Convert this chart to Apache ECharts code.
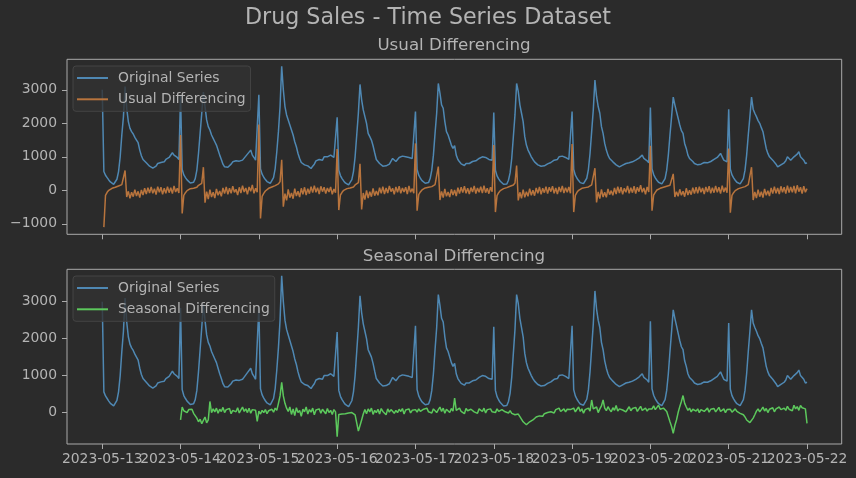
<!DOCTYPE html>
<html>
<head>
<meta charset="utf-8">
<script src="https://cdn.jsdelivr.net/npm/echarts@6/dist/echarts.min.js"></script>
<style>
html,body{margin:0;padding:0;background:#2b2b2b;}
#main{width:856px;height:478px;}
</style>
</head>
<body>
<div id="main"></div>
<script>
// ---- data (half-hourly readings, one inner array per day starting 2023-05-13) ----
const tickLabels = ['2023-05-13','2023-05-14','2023-05-15','2023-05-16','2023-05-17',
                    '2023-05-18','2023-05-19','2023-05-20','2023-05-21','2023-05-22'];

const originalSeries = [
 [3000, 560, 450, 380, 310, 250, 210, 180, 220, 330,
  560, 1000, 1650, 2200, 3100, 2450, 2050, 1850, 1750, 1680,
  1580, 1500, 1420, 1200, 1030, 920, 870, 820, 780, 720,
  700, 660, 650, 720, 800, 850, 830, 860, 850, 920,
  950, 980, 1000, 1120, 1050, 1000, 980, 920],
 [2830, 620, 460, 380, 310, 260, 220, 210, 240, 350,
  600, 1100, 1700, 2300, 2930, 2500, 2100, 1900, 1800, 1650,
  1550, 1450, 1350, 1200, 1050, 920, 780, 700, 680, 690,
  720, 780, 850, 830, 880, 920, 870, 850, 900, 960,
  1000, 1080, 1120, 1200, 1050, 980, 900, 850],
 [2850, 640, 480, 390, 320, 260, 220, 210, 250, 380,
  650, 1150, 1750, 2500, 3700, 3000, 2500, 2250, 2100, 1950,
  1800, 1650, 1450, 1300, 1100, 950, 830, 790, 760, 740,
  730, 700, 650, 720, 780, 880, 900, 920, 930, 900,
  1000, 1050, 1000, 1050, 1050, 1000, 980, 950],
 [2180, 600, 440, 350, 280, 220, 180, 160, 200, 320,
  560, 1000, 1650, 2300, 3160, 2700, 2400, 2200, 2000, 1700,
  1600, 1500, 1330, 1120, 920, 860, 800, 760, 720, 700,
  730, 750, 780, 800, 950, 900, 860, 900, 980, 1000,
  1020, 990, 1000, 1020, 980, 1000, 950, 900],
 [2350, 620, 450, 360, 290, 240, 210, 200, 230, 350,
  600, 1050, 1700, 2300, 3190, 2900, 2550, 2450, 2050, 1750,
  1650, 1500, 1350, 1250, 1330, 1050, 920, 850, 790, 760,
  740, 800, 780, 800, 840, 860, 900, 880, 920, 950,
  960, 1000, 1050, 980, 950, 920, 880, 900],
 [2320, 600, 430, 340, 270, 220, 180, 160, 190, 300,
  520, 950, 1600, 2250, 3190, 2950, 2550, 2300, 2050, 1600,
  1350, 1200, 1100, 1000, 920, 850, 800, 760, 740, 720,
  700, 730, 760, 790, 800, 830, 850, 900, 950, 920,
  1000, 1050, 1020, 1050, 980, 1000, 920, 870],
 [2350, 620, 450, 360, 290, 230, 190, 200, 240, 360,
  620, 1100, 1750, 2400, 3290, 2800, 2500, 2300, 1900, 1700,
  1400, 1200, 1050, 950, 900, 850, 800, 760, 720, 700,
  720, 750, 780, 800, 780, 820, 800, 850, 860, 900,
  920, 960, 1000, 1050, 950, 920, 880, 820],
 [2470, 640, 470, 370, 300, 240, 200, 190, 230, 350,
  600, 1050, 1650, 2200, 2780, 2550, 2350, 2150, 1950, 1780,
  1700, 1400, 1250, 1050, 950, 900, 860, 800, 780, 760,
  740, 780, 800, 830, 850, 820, 800, 860, 900, 920,
  950, 980, 1000, 1100, 1000, 900, 880, 850],
 [2420, 630, 460, 370, 300, 240, 200, 190, 230, 350,
  600, 1050, 1650, 2200, 2780, 2420, 2300, 2200, 2080, 2000,
  1870, 1750, 1500, 1250, 1100, 1000, 950, 900, 850, 780,
  700, 650, 760, 800, 820, 880, 1000, 950, 900, 950,
  1000, 1030, 1080, 1150, 1000, 1050, 900, 800],
 [820]
];

const usualDifferencing = [
 [null, -1100, -150, -60, 0, 30, 60, 40, 90, 70,
  130, 110, 170, 220, 590, -200, -30, -240, -60, -190,
  20, -170, -30, -220, 10, -140, 60, -110, 80, -80,
  100, -90, 50, -130, 110, -60, 90, -120, 60, -90,
  110, -70, 80, -100, 130, -50, 60, -80],
 [1650, -690, -150, -70, -10, 40, 50, 70, 60, 110,
  90, 150, 130, 210, 690, -370, -40, -260, 20, -200,
  -60, -230, 40, -150, -20, -180, 70, -100, 100, -120,
  60, -90, 120, -60, 30, -140, 90, -80, 140, -50,
  70, -120, 100, -30, 160, -90, 60, -60],
 [1960, -840, -180, -90, -20, 20, 60, 50, 100, 80,
  140, 120, 190, 260, 910, -490, -100, -300, 30, -220,
  -80, -250, 50, -170, -30, -200, 60, -120, 90, -140,
  50, -100, 110, -70, 140, -60, 80, -110, 120, -40,
  90, -100, 70, -50, 100, -120, 40, -70],
 [1230, -590, -140, -60, 0, 40, 50, 80, 70, 120,
  100, 160, 150, 230, 790, -570, -80, -280, 0, -230,
  -40, -190, 60, -160, -20, -150, 80, -90, 110, -110,
  70, -80, 130, -40, 60, -120, 100, -60, 120, -90,
  70, -50, 90, -110, 130, -60, 50, -90],
 [1400, -610, -130, -50, 10, 40, 70, 60, 90, 100,
  110, 150, 170, 200, 710, -290, -30, -220, 40, -180,
  -50, -200, 30, -140, 10, -170, 80, -100, 90, -70,
  120, -90, 60, -110, 80, -50, 130, -100, 70, -60,
  110, -80, 140, -70, 60, -100, 90, -40],
 [1350, -650, -160, -70, -10, 30, 50, 60, 80, 90,
  120, 140, 160, 220, 740, -300, -60, -240, 20, -210,
  -40, -180, 50, -150, 0, -160, 70, -90, 100, -120,
  60, -70, 110, -100, 90, -40, 120, -90, 70, -110,
  100, -50, 130, -80, 80, -60, 100, -90],
 [1380, -650, -150, -60, 0, 50, 60, 70, 80, 110,
  100, 150, 160, 210, 660, -360, -50, -250, 30, -200,
  -60, -210, 40, -130, -10, -150, 70, -110, 110, -80,
  90, -120, 60, -60, 130, -90, 80, -70, 120, -100,
  90, -40, 150, -60, 70, -120, 100, -50],
 [1330, -610, -140, -60, 10, 40, 60, 50, 90, 100,
  120, 130, 150, 180, 490, -200, -40, -180, 30, -150,
  -30, -190, 60, -140, 0, -130, 80, -100, 90, -90,
  110, -60, 70, -110, 100, -50, 120, -90, 80, -70,
  130, -60, 90, -100, 140, -50, 80, -70],
 [1250, -670, -150, -70, -10, 30, 50, 60, 80, 100,
  110, 140, 170, 220, 690, -290, -50, -230, 20, -190,
  -40, -220, 40, -150, -10, -170, 70, -100, 110, -90,
  70, -110, 120, -60, 90, -100, 140, -70, 100, -60,
  130, -90, 150, -40, 90, -100, 120, -60],
 [50]
];

// seasonal differencing starts one day later (2023-05-14)
const seasonalStartDay = 1;
const seasonalDifferencing = [
 [-200, 150, 50, 100, 0, 80, 30, 90, -20, -60,
  -150, -250, -180, -300, -250, -120, -280, -200, 300, 0,
  100, 20, 120, -20, 90, 30, 140, 0, 80, 40,
  110, -30, 60, 90, 20, 130, -10, 70, 150, 30,
  100, 0, 120, -20, 80, 40, 60, -240],
 [40, -40, 60, 0, 80, -30, 50, 20, 90, 10,
  120, 60, 250, 450, 820, 450, 250, 120, 30, 150,
  -50, 100, -80, 130, 0, 60, -100, 90, 20, 150,
  -40, 80, 10, 120, -60, 70, 30, 100, -20, 90,
  40, -30, 110, 0, 60, -50, 80, 20],
 [-650, -50, -20, -40, 0, -30, -60, -10, -40, 0,
  -30, -60, -20, -500, -520, -200, -40, 80, -30, 100,
  20, 120, -50, 60, 0, 90, -40, 110, 30, 70,
  -60, 100, 10, 80, 120, -20, 60, 0, 90, 30,
  110, -40, 70, 20, 100, -10, 60, 30],
 [80, 10, 100, 30, -20, 90, 40, 120, 20, 60,
  -10, 100, 50, 0, 80, 150, 30, 120, -20, 90,
  60, 0, 110, 40, 390, 60, 10, 120, 30, 80,
  -30, 110, 50, 0, 90, 140, 20, 70, -20, 100,
  60, 30, 120, -10, 80, 40, 100, 20],
 [60, 0, 100, 30, -20, 80, 40, 20, 60, -10,
  50, -20, -30, -60, -90, -40, -110, -60, -250, -300,
  -330, -280, -250, -220, -200, -170, -120, -150, -90, -60,
  -100, -30, -60, 0, -40, 20, 50, -10, 80, 40,
  120, 30, 60, 100, 20, 90, 50, 80],
 [50, 120, 20, 90, 150, 30, 100, -20, 80, 60,
  120, 40, 340, 100, 60, 150, 0, 100, 180, 340,
  120, 50, 160, 80, 20, 130, 60, 190, 40, 100,
  150, 70, 120, 20, 90, 160, 50, 110, 80, 140,
  30, 100, 170, 60, 90, 120, 40, 100],
 [150, 100, 180, 80, 120, 200, 90, 140, 120, 80,
  30, -110, -250, -380, -560, -350, -200, 0, 160, 300,
  460, 250, 150, 60, 120, 20, 90, 140, 40, 100,
  0, 80, 130, 30, 70, 120, 10, 90, 50, 110,
  20, 80, 140, 30, 60, 100, 0, 80],
 [40, 90, 10, 60, 100, 30, 70, -20, 20, -60,
  -120, -200, -250, -270, -230, -150, -60, 40, 100, 20,
  80, 150, 40, 110, 0, 90, 60, 130, 20, 100,
  50, 150, 80, 30, 120, 60, 170, 90, 140, 50,
  200, 100, 160, 60, 190, 130, 80, 100],
 [-290]
];

const topYTicks = [-1000, 0, 1000, 2000, 3000];
const bottomYTicks = [0, 1000, 2000, 3000];
const STEPS_PER_DAY = 48;

// ---- build points: x is days since 2023-05-13 ----
function toPoints(days, startDay) {
  const out = [];
  days.forEach((vals, i) => {
    vals.forEach((v, k) => {
      if (v !== null) out.push([startDay + i + k / STEPS_PER_DAY, v]);
    });
  });
  return out;
}
const dayIdx = tickLabels.map((_, i) => i);
const evenIdx = dayIdx.filter(i => i % 2 === 0);
const oddIdx = dayIdx.filter(i => i % 2 === 1);

const FONT = 'DejaVu Sans';
const TXT = '#b4b4b4';
const AX = '#aaaaaa';
const BLUE = '#4f88b3';
const ORANGE = '#b8743d';
const GREEN = '#5cc85c';

function fmtY(v) { return v < 0 ? '\u2212' + Math.abs(v) : String(v); }

function xAxisCfg(gridIndex, labelIdx, showTicks) {
  return {
    type: 'value', gridIndex, min: -0.45, max: 9.443, position: 'bottom', offset: 0,
    axisLine: { show: false, onZero: false }, splitLine: { show: false },
    axisTick: { show: showTicks, length: 5, customValues: dayIdx, lineStyle: { color: AX, width: 1 } },
    axisLabel: {
      show: labelIdx.length > 0, customValues: labelIdx.length ? labelIdx : dayIdx, margin: 8,
      showMinLabel: true, showMaxLabel: true, hideOverlap: false,
      color: TXT, fontSize: 13.9, fontFamily: FONT,
      formatter: v => tickLabels[Math.round(v)]
    }
  };
}
function yAxisCfg(gridIndex, min, max, ticks) {
  return {
    type: 'value', gridIndex, min, max, position: 'left',
    axisLine: { show: false, onZero: false }, splitLine: { show: false },
    axisTick: { show: true, length: 5, customValues: ticks, lineStyle: { color: AX, width: 1 } },
    axisLabel: { customValues: ticks, margin: 10, showMinLabel: true, showMaxLabel: true,
      color: TXT, fontSize: 13.9, fontFamily: FONT, formatter: fmtY }
  };
}
function legendCfg(top, names) {
  return {
    data: names, orient: 'vertical', left: 73, top,
    padding: [4, 5, 4, 4], itemGap: 5.3,
    itemWidth: 31, itemHeight: 2, icon: 'rect',
    backgroundColor: 'rgba(50,50,50,0.8)', borderColor: '#444444', borderWidth: 1, borderRadius: 3,
    textStyle: { color: TXT, fontSize: 13.9, fontFamily: FONT, lineHeight: 16, padding: [0, 0, 0, 5] },
    selectedMode: false
  };
}
function lineSeries(name, color, pts, xi, yi, z) {
  return {
    type: 'line', name, data: pts, xAxisIndex: xi, yAxisIndex: yi,
    showSymbol: false, symbol: 'none', z,
    lineStyle: { color, width: 1.5 }, itemStyle: { color },
    emphasis: { disabled: true }, sampling: null
  };
}

const origPts = toPoints(originalSeries, 0);
const chart = echarts.init(document.getElementById('main'));
chart.setOption({
  backgroundColor: '#2b2b2b',
  animation: false,
  textStyle: { fontFamily: FONT },
  graphic: [
    { type: 'text', x: 428, y: 18.5, style: { text: 'Drug Sales - Time Series Dataset', fill: TXT, font: '22.2px "DejaVu Sans"', align: 'center', verticalAlign: 'middle' } },
    { type: 'text', x: 454, y: 45.7, style: { text: 'Usual Differencing', fill: TXT, font: '16.7px "DejaVu Sans"', align: 'center', verticalAlign: 'middle' } },
    { type: 'text', x: 454, y: 256.5, style: { text: 'Seasonal Differencing', fill: TXT, font: '16.7px "DejaVu Sans"', align: 'center', verticalAlign: 'middle' } }
  ],
  grid: [
    { left: 67, width: 774.7, top: 59.3, height: 175, show: true, borderColor: AX, borderWidth: 1, backgroundColor: 'transparent', containLabel: false },
    { left: 67, width: 774.7, top: 269.3, height: 174.7, show: true, borderColor: AX, borderWidth: 1, backgroundColor: 'transparent', containLabel: false }
  ],
  xAxis: [xAxisCfg(0, [], true), xAxisCfg(1, evenIdx, true), xAxisCfg(1, oddIdx, false)],
  yAxis: [yAxisCfg(0, -1313, 3910, topYTicks), yAxisCfg(1, -850, 3875, bottomYTicks)],
  legend: [
    legendCfg(66, ['Original Series', 'Usual Differencing']),
    legendCfg(276, ['Original Series', 'Seasonal Differencing'])
  ],
  series: [
    lineSeries('Original Series', BLUE, origPts, 0, 0, 2),
    lineSeries('Usual Differencing', ORANGE, toPoints(usualDifferencing, 0), 0, 0, 3),
    lineSeries('Original Series', BLUE, origPts, 1, 1, 2),
    lineSeries('Seasonal Differencing', GREEN, toPoints(seasonalDifferencing, seasonalStartDay), 1, 1, 3)
  ]
});
</script>
</body>
</html>
